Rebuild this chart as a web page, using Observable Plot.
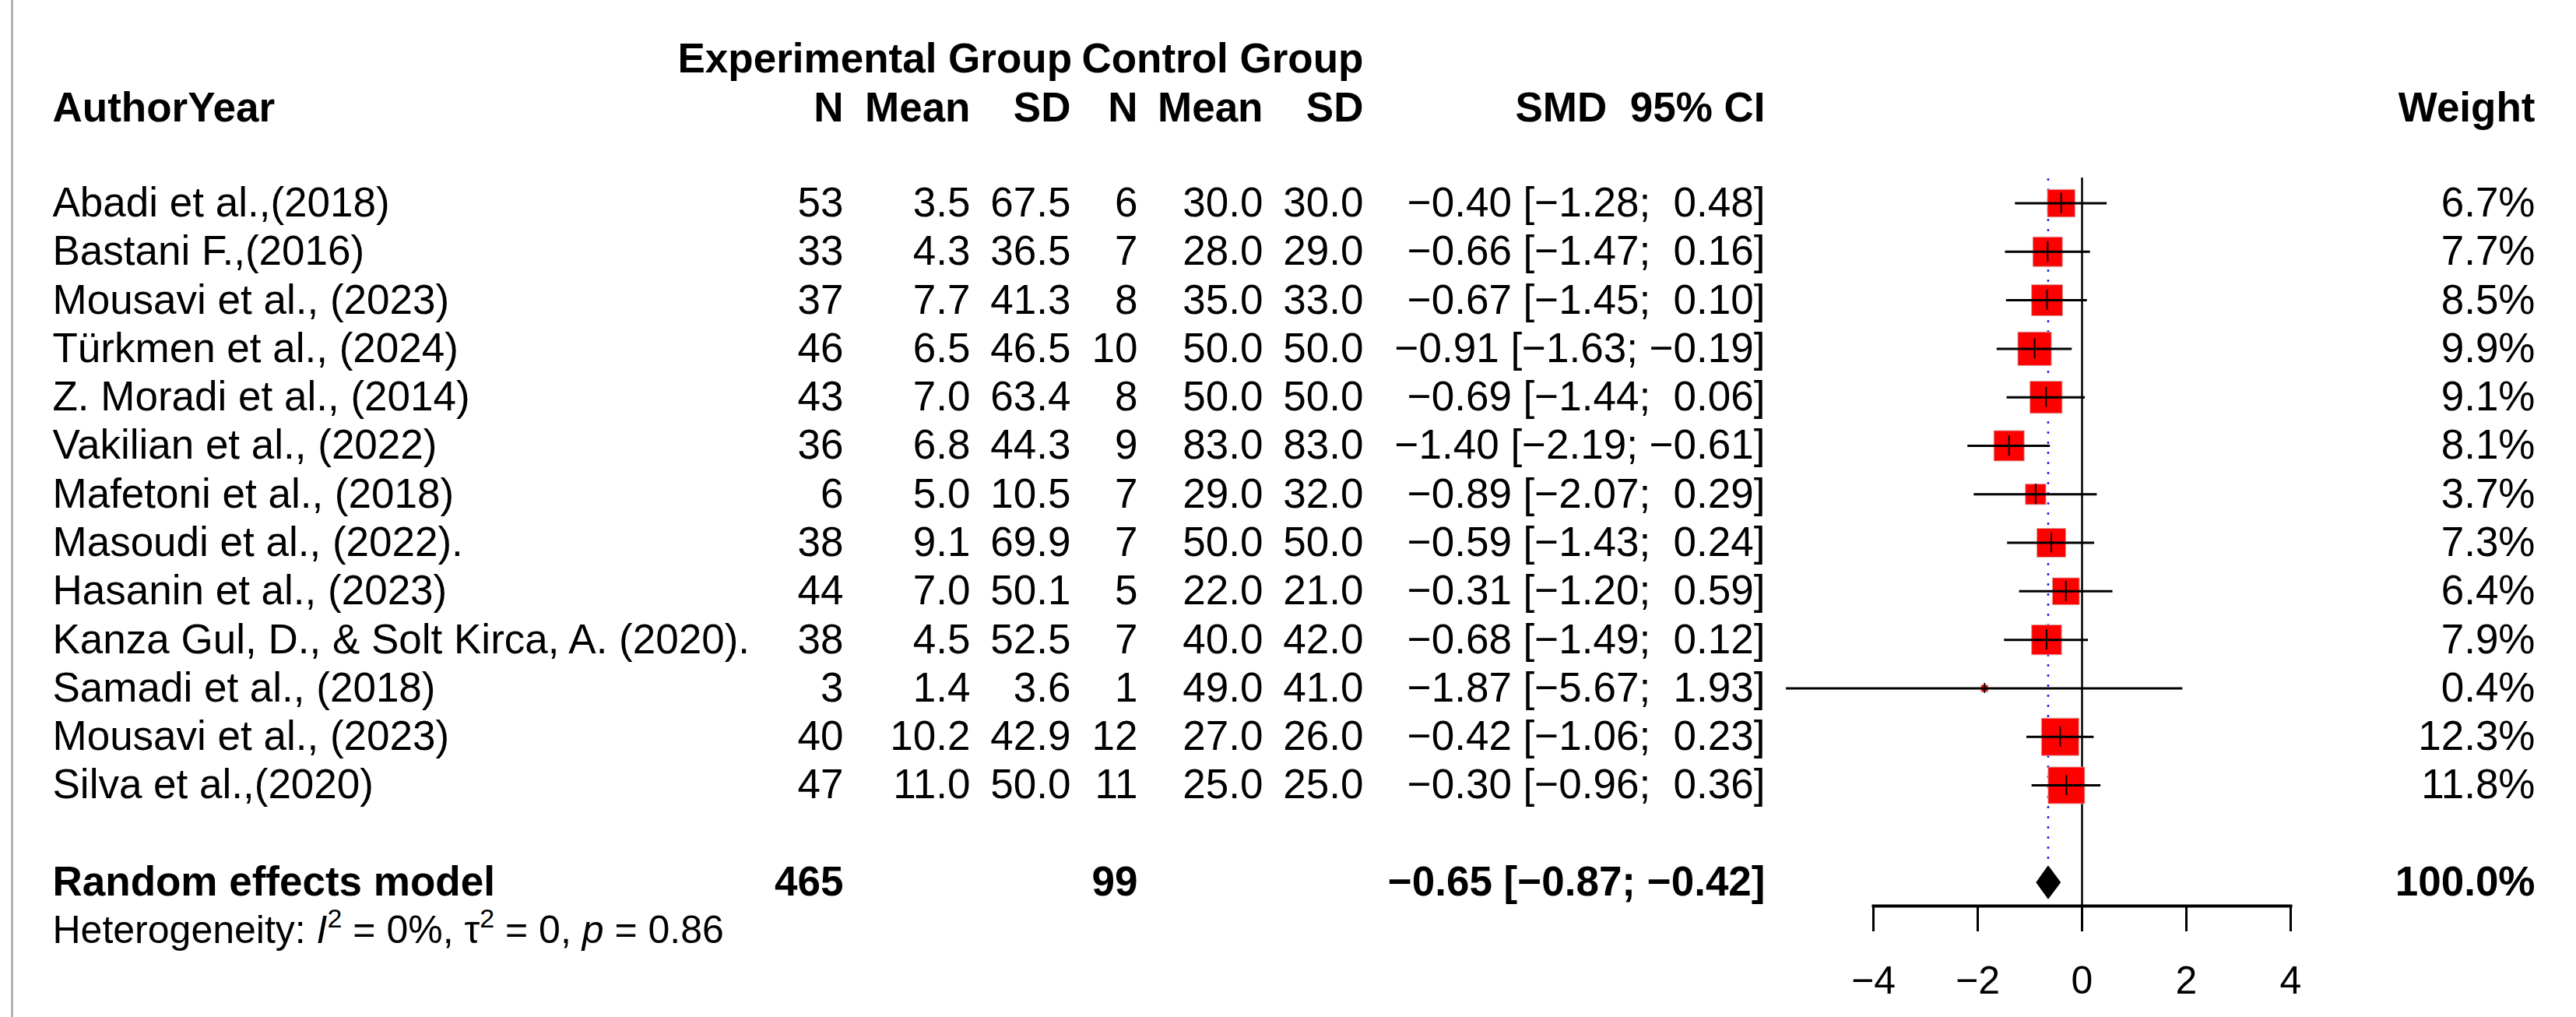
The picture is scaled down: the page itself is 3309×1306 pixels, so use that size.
<!DOCTYPE html>
<html>
<head>
<meta charset="utf-8">
<script src="https://cdn.jsdelivr.net/npm/d3@7"></script>
<script src="https://cdn.jsdelivr.net/npm/@observablehq/plot@0.6"></script>
<style>
html, body { margin: 0; padding: 0; background: #fff; }
#wrap { position: relative; width: 3309px; height: 1306px; overflow: hidden; background: #fff; }
#edge { position: absolute; left: 14px; top: 0; width: 3px; height: 1306px; background: #b4b4b4; }
#wrap svg { position: absolute; left: 0; top: 0; }
</style>
</head>
<body>
<div id="wrap"><div id="edge"></div></div>
<script>
// ---------------- data ----------------
const studies = [
  "Abadi et al.,(2018)",
  "Bastani F.,(2016)",
  "Mousavi et al., (2023)",
  "Türkmen et al., (2024)",
  "Z. Moradi et al., (2014)",
  "Vakilian et al., (2022)",
  "Mafetoni et al., (2018)",
  "Masoudi et al., (2022).",
  "Hasanin et al., (2023)",
  "Kanza Gul, D., & Solt Kirca, A. (2020).",
  "Samadi et al., (2018)",
  "Mousavi et al., (2023)",
  "Silva et al.,(2020)"
];
const expN     = [53, 33, 37, 46, 43, 36, 6, 38, 44, 38, 3, 40, 47];
const expMean  = [3.5, 4.3, 7.7, 6.5, 7.0, 6.8, 5.0, 9.1, 7.0, 4.5, 1.4, 10.2, 11.0];
const expSD    = [67.5, 36.5, 41.3, 46.5, 63.4, 44.3, 10.5, 69.9, 50.1, 52.5, 3.6, 42.9, 50.0];
const ctrlN    = [6, 7, 8, 10, 8, 9, 7, 7, 5, 7, 1, 12, 11];
const ctrlMean = [30.0, 28.0, 35.0, 50.0, 50.0, 83.0, 29.0, 50.0, 22.0, 40.0, 49.0, 27.0, 25.0];
const ctrlSD   = [30.0, 29.0, 33.0, 50.0, 50.0, 83.0, 32.0, 50.0, 21.0, 42.0, 41.0, 26.0, 25.0];
const smd      = [-0.40, -0.66, -0.67, -0.91, -0.69, -1.40, -0.89, -0.59, -0.31, -0.68, -1.87, -0.42, -0.30];
const ciLower  = [-1.28, -1.47, -1.45, -1.63, -1.44, -2.19, -2.07, -1.43, -1.20, -1.49, -5.67, -1.06, -0.96];
const ciUpper  = [0.48, 0.16, 0.10, -0.19, 0.06, -0.61, 0.29, 0.24, 0.59, 0.12, 1.93, 0.23, 0.36];
const weight   = [6.7, 7.7, 8.5, 9.9, 9.1, 8.1, 3.7, 7.3, 6.4, 7.9, 0.4, 12.3, 11.8];

const pooledLabel = "Random effects model";
const pooledExpN = 465;
const pooledCtrlN = 99;
const pooledSMD = -0.65;
const pooledLower = -0.87;
const pooledUpper = -0.42;
const pooledWeight = 100.0;

const hetI2 = "0%";
const hetTau2 = "0";
const hetP = "0.86";

const groupHeaders = ["Experimental Group", "Control Group"];
const colHeaders = ["N", "Mean", "SD", "N", "Mean", "SD"];
const xTicks = [-4, -2, 0, 2, 4];

// ---------------- layout ----------------
const W = 3309, H = 1306;
const ML = 2406, MR = W - 2942, MT = 228, MB = H - 1163;
const FS = 53;
const colX = [1083, 1246, 1375, 1461, 1622, 1751]; // right edges of numeric columns
const studyX = 67, ciX = 2267, weightX = 3256;
const rowPx = (1008 - 260.5) / 12;

const fmt = (v, d) => v.toFixed(d).replace("-", "\u2212");
const ciText = (e, lo, hi) => `${fmt(e, 2)} [${fmt(lo, 2)};${hi < 0 ? " " : "\u00a0\u00a0"}${fmt(hi, 2)}]`;

const rows = studies.map((s, i) => ({
  row: i, study: s,
  vals: [String(expN[i]), fmt(expMean[i], 1), fmt(expSD[i], 1), String(ctrlN[i]), fmt(ctrlMean[i], 1), fmt(ctrlSD[i], 1)],
  smd: smd[i], lo: ciLower[i], hi: ciUpper[i], w: weight[i],
  ci: ciText(smd[i], ciLower[i], ciUpper[i]),
  wt: fmt(weight[i], 1) + "%"
}));
const summaryRow = rows.length + 1;
const hetRow = summaryRow + 1;
const pooled = [{
  row: summaryRow, label: pooledLabel,
  vals: [String(pooledExpN), "", "", String(pooledCtrlN), "", ""],
  smd: pooledSMD, lo: pooledLower, hi: pooledUpper,
  ci: ciText(pooledSMD, pooledLower, pooledUpper),
  wt: fmt(pooledWeight, 1) + "%"
}];
const dh = 0.33;
const diamond = [
  {x: pooledLower, y: summaryRow},
  {x: pooledSMD, y: summaryRow - dh},
  {x: pooledUpper, y: summaryRow},
  {x: pooledSMD, y: summaryRow + dh},
  {x: pooledLower, y: summaryRow}
];

const rMax = 48 / Math.sqrt(Math.PI);
const maxW = d3.max(weight);
const sideOf = w => Math.sqrt(Math.PI) * rMax * Math.sqrt(w / maxW);
const tickHalf = w => Math.min(13, 3 + sideOf(w) * 0.4) / rowPx;

const textBase = {frameAnchor: "left", lineAnchor: "middle", fontSize: FS};
function colText(data, text, x, extra = {}) {
  return Plot.text(data, {y: "row", text, dx: x - ML, textAnchor: "end", ...textBase, ...extra});
}
function header(label, x, y, anchor, extra = {}) {
  return Plot.text([label], {text: d => d, frameAnchor: "top-left", lineAnchor: "middle",
    dx: x - ML, dy: y - MT, textAnchor: anchor, fontSize: FS, fontWeight: "bold", ...extra});
}

const marks = [];
// headers
marks.push(header(groupHeaders[0], 870, 76, "start"));
marks.push(header(groupHeaders[1], 1751, 76, "end"));
marks.push(header("AuthorYear", studyX, 139, "start"));
colHeaders.forEach((h, i) => marks.push(header(h, colX[i], 139, "end")));
marks.push(header("SMD\u00a0\u00a095% CI", ciX, 139, "end"));
marks.push(header("Weight", weightX, 139, "end"));

// study table
marks.push(Plot.text(rows, {y: "row", text: "study", dx: studyX - ML, textAnchor: "start", ...textBase}));
colHeaders.forEach((h, i) => marks.push(colText(rows, d => d.vals[i], colX[i])));
marks.push(colText(rows, "ci", ciX));
marks.push(colText(rows, "wt", weightX));

// summary row
marks.push(Plot.text(pooled, {y: "row", text: "label", dx: studyX - ML, textAnchor: "start", fontWeight: "bold", ...textBase}));
colHeaders.forEach((h, i) => marks.push(colText(pooled, d => d.vals[i], colX[i], {fontWeight: "bold"})));
marks.push(colText(pooled, "ci", ciX, {fontWeight: "bold"}));
marks.push(colText(pooled, "wt", weightX, {fontWeight: "bold"}));

// heterogeneity (rich text added after render)
marks.push(Plot.text([{row: hetRow}], {y: "row", text: () => "Heterogeneity", dx: studyX - ML, textAnchor: "start",
  frameAnchor: "left", lineAnchor: "middle", fontSize: 50}));

// forest
marks.push(Plot.ruleX([0], {stroke: "black", strokeWidth: 2.5}));
marks.push(Plot.ruleX([pooledSMD], {x: d => d, y1: -0.5, y2: summaryRow - dh, stroke: "blue", strokeWidth: 2.5, strokeDasharray: "2.5,10.5"}));
marks.push(Plot.dot(rows, {x: "smd", y: "row", r: "w", symbol: "square", fill: "#ff0000", stroke: "#d8a0a0", strokeWidth: 1}));
marks.push(Plot.ruleY(rows, {y: "row", x1: "lo", x2: "hi", stroke: "black", strokeWidth: 3}));
marks.push(Plot.ruleX(rows, {x: "smd", y1: d => d.row - tickHalf(d.w), y2: d => d.row + tickHalf(d.w), stroke: "black", strokeWidth: 2}));
marks.push(Plot.line(diamond, {x: "x", y: "y", fill: "black", stroke: "black", strokeWidth: 1.5}));

// axis
marks.push(Plot.frame({anchor: "bottom", strokeWidth: 4}));
marks.push(Plot.axisX({ticks: xTicks, tickSize: 33, tickPadding: 44, fontSize: 50, strokeWidth: 3, label: null}));

const svg = Plot.plot({
  width: W, height: H,
  marginLeft: ML, marginRight: MR, marginTop: MT, marginBottom: MB,
  style: {fontFamily: "'Liberation Sans', Arial, Helvetica, sans-serif", background: "transparent", overflow: "visible", color: "black"},
  x: {domain: [-4, 4], label: null},
  y: {type: "linear", domain: [0, 12], range: [260.5, 1008], axis: null},
  r: {type: "sqrt", domain: [0, maxW], range: [0, rMax]},
  marks
});

// rich heterogeneity text
d3.select(svg).selectAll("text").filter(function () { return this.textContent === "Heterogeneity"; }).each(function () {
  const t = d3.select(this);
  t.text(null);
  t.append("tspan").text("Heterogeneity: ");
  t.append("tspan").attr("font-style", "italic").text("I");
  t.append("tspan").attr("font-size", 34).attr("dy", -20).text("2");
  t.append("tspan").attr("dy", 20).text(` = ${hetI2}, `);
  t.append("tspan").text("\u03c4");
  t.append("tspan").attr("font-size", 34).attr("dy", -20).text("2");
  t.append("tspan").attr("dy", 20).text(` = ${hetTau2}, `);
  t.append("tspan").attr("font-style", "italic").text("p");
  t.append("tspan").text(` = ${hetP}`);
});

document.getElementById("wrap").appendChild(svg);
</script>
</body>
</html>
